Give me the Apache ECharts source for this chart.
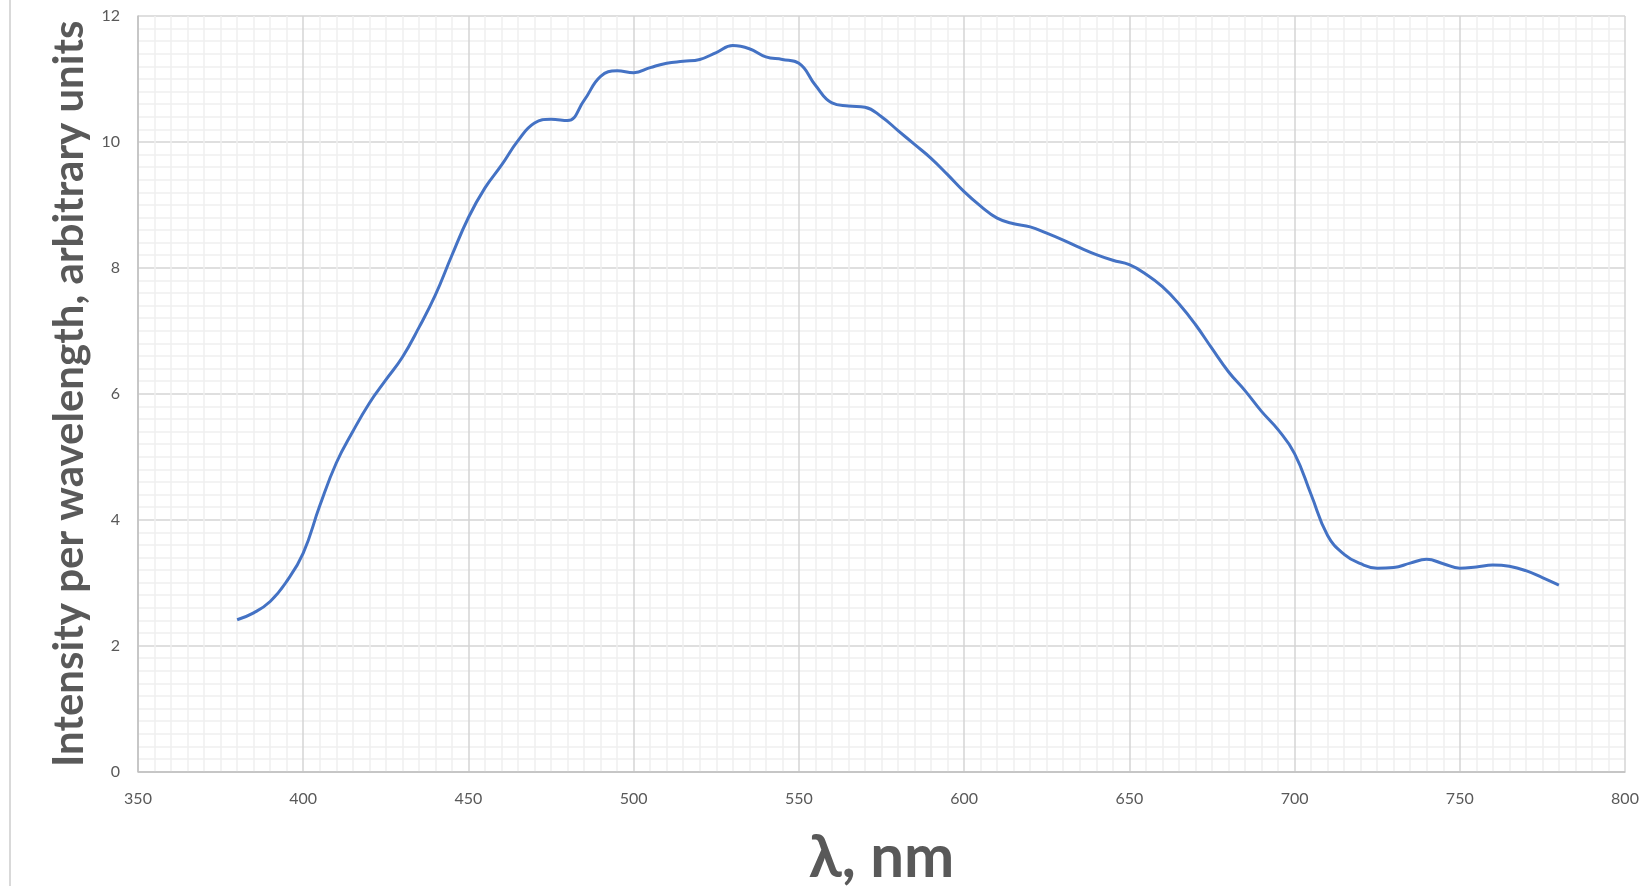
<!DOCTYPE html>
<html>
<head>
<meta charset="utf-8">
<script src="https://cdn.jsdelivr.net/npm/echarts@6/dist/echarts.min.js"></script>
<style>
html,body{margin:0;padding:0;background:#fff;}
#chart{width:1645px;height:886px;}
</style>
</head>
<body>
<div id="chart"></div>
<script>
// Wavelength (nm)
const wavelengths = [380,385,390,395,400,405,410,415,420,425,430,435,440,445,450,455,460,465,470,475,480,485,490,495,500,505,510,515,520,525,530,535,540,545,550,555,560,565,570,575,580,585,590,595,600,605,610,615,620,625,630,635,640,645,650,655,660,665,670,675,680,685,690,695,700,705,710,715,720,725,730,735,740,745,750,755,760,765,770,775,780];
// Intensity per wavelength (arbitrary units)
const intensity = [2.41,2.52,2.70,3.02,3.47,4.22,4.90,5.40,5.85,6.22,6.58,7.05,7.57,8.20,8.80,9.27,9.63,10.02,10.30,10.36,10.34,10.66,11.04,11.13,11.10,11.18,11.25,11.28,11.31,11.42,11.53,11.48,11.35,11.31,11.25,10.90,10.62,10.57,10.55,10.40,10.18,9.96,9.74,9.48,9.21,8.98,8.79,8.70,8.65,8.55,8.44,8.32,8.21,8.12,8.05,7.90,7.70,7.43,7.10,6.72,6.35,6.05,5.72,5.43,5.05,4.40,3.75,3.45,3.30,3.23,3.24,3.31,3.37,3.30,3.23,3.25,3.28,3.26,3.19,3.08,2.96];
const xTicks = [350,400,450,500,550,600,650,700,750,800];
const yTicks = [0,2,4,6,8,10,12];

const xTitle = 'λ, nm';
const yTitle = 'Intensity per wavelength, arbitrary units';

const chart = echarts.init(document.getElementById('chart'), null, {renderer:'canvas'});
const FONT = 'Lato, "Open Sans", sans-serif';
const TXT = '#595959';

chart.setOption({
  animation: false,
  backgroundColor: '#ffffff',
  grid: {left: 138, right: 20, top: 16, bottom: 114.5, containLabel: false, outerBoundsMode: 'none'},
  graphic: [{
    type: 'rect', left: 9, top: 0,
    shape: {width: 2, height: 886},
    style: {fill: '#d9d9d9'}, silent: true
  }],
  xAxis: {
    type: 'value',
    min: xTicks[0], max: xTicks[xTicks.length - 1], interval: 50,
    name: xTitle,
    nameLocation: 'middle',
    nameGap: 56,
    nameTextStyle: {fontFamily: FONT, fontWeight: 'bold', fontSize: 60, color: TXT},
    axisLine: {show: true, lineStyle: {color: '#bfbfbf', width: 1.5}},
    axisTick: {show: false},
    axisLabel: {fontFamily: FONT, fontSize: 16, color: TXT, margin: 19},
    splitLine: {show: true, lineStyle: {color: '#d4d4d4', width: 1.5}},
    minorTick: {show: false, splitNumber: 10},
    minorSplitLine: {show: true, lineStyle: {color: '#efefef', width: 1.5}}
  },
  yAxis: {
    type: 'value',
    min: yTicks[0], max: yTicks[yTicks.length - 1], interval: 2,
    name: yTitle,
    nameLocation: 'middle',
    nameRotate: 90,
    nameGap: 46,
    nameTextStyle: {fontFamily: FONT, fontWeight: 'bold', fontSize: 42, color: TXT},
    axisLine: {show: true, lineStyle: {color: '#bfbfbf', width: 1.5}},
    axisTick: {show: false},
    axisLabel: {fontFamily: FONT, fontSize: 16, color: TXT, margin: 18},
    splitLine: {show: true, lineStyle: {color: '#d4d4d4', width: 1.5}},
    minorTick: {show: false, splitNumber: 10},
    minorSplitLine: {show: true, lineStyle: {color: '#efefef', width: 1.5}}
  },
  series: [{
    type: 'line',
    data: wavelengths.map((w, i) => [w, intensity[i]]),
    smooth: 0.45,
    showSymbol: false,
    symbol: 'none',
    lineStyle: {color: '#4472C4', width: 3},
    z: 5
  }]
});
</script>
</body>
</html>
